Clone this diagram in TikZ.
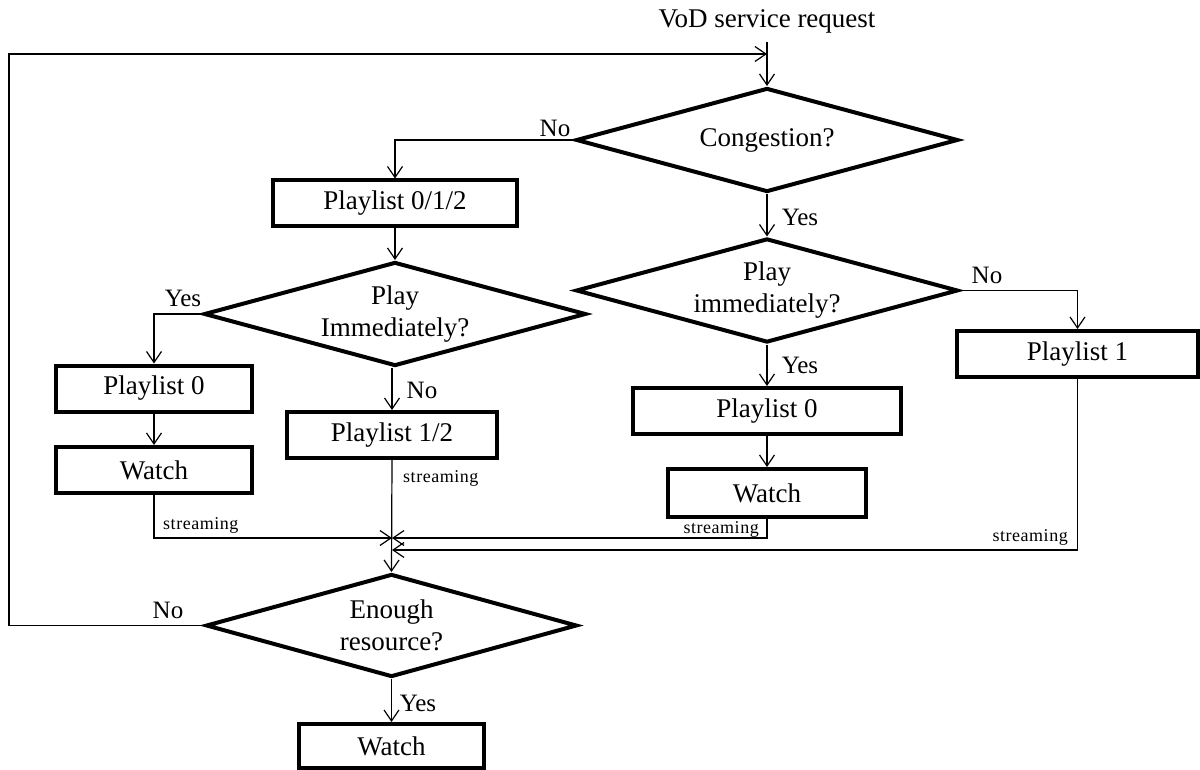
\documentclass[tikz,border=0pt]{standalone}
\usepackage{fontspec}
\setmainfont{Liberation Serif}
\newfontfamily\strfam[LetterSpace=3]{Liberation Serif}
\usetikzlibrary{shapes.geometric,arrows.meta}
\newcommand\mainf{\fontsize{27}{32}\selectfont}
\newcommand\lblf{\fontsize{25}{30}\selectfont}
\newcommand\strf{\strfam\fontsize{18}{21}\selectfont}
\begin{document}
\begin{tikzpicture}[x=1pt,y=-1pt,
  procbox/.style={draw, line width=4pt, minimum width=#1, minimum height=46pt, inner sep=0pt, font=\mainf},
  procbox/.default=200pt,
  dec/.style={diamond, draw, line width=4pt, aspect=3.67, minimum width=382pt, minimum height=104pt, inner sep=0pt, align=center, font=\mainf},
  lbl/.style={font=\lblf, inner sep=0pt},
  stream/.style={font=\strf, inner sep=0pt},
  conn/.style={line width=1.2pt},
  arr/.style={conn, -{Straight Barb[length=11pt,width=15pt]}}]
\useasboundingbox (0,0) rectangle (1200,770);

% nodes
\node[font=\mainf, anchor=base, inner sep=0pt] (req) at (767,28) {VoD service request};
\node[dec] (cong) at (767,140) {Congestion?};
\node[procbox=244pt] (p012) at (395,203.5) {Playlist 0/1/2};
\node[dec] (pl) at (395,314) {Play\\Immediately?};
\node[procbox=196pt] (p0l) at (154,388.5) {Playlist 0};
\node[procbox=196pt] (wl) at (154,470) {Watch};
\node[procbox=210pt] (p12) at (392,435) {Playlist 1/2};
\node[dec] (pr) at (767,290.5) {Play\\immediately?};
\node[procbox=268pt] (p0r) at (767,411) {Playlist 0};
\node[procbox=198pt, minimum height=48pt] (wr) at (767,493) {Watch};
\node[procbox=241pt] (p1) at (1077.5,354) {Playlist 1};
\node[dec, aspect=3.6, minimum width=371pt, minimum height=103pt] (enough) at (391.5,625.5) {Enough\\resource?};
\node[procbox=185pt, minimum height=44pt] (wb) at (391.5,746) {Watch};

% labels
\node[lbl] (lno1) at (555,128) {No};
\node[lbl] (lyes1) at (800,217) {Yes};
\node[lbl] (lyes2) at (183,298) {Yes};
\node[lbl] (lno2) at (422,390) {No};
\node[lbl] (lno3) at (987,275) {No};
\node[lbl] (lyes3) at (800,365) {Yes};
\node[lbl] (lno4) at (168,610) {No};
\node[lbl] (lyes4) at (418,703) {Yes};

\node[stream, anchor=west] (s1) at (163,525) {streaming};
\node[stream, anchor=west] (s2) at (403,478) {streaming};
\node[stream, anchor=east] (s3) at (759,529) {streaming};
\node[stream, anchor=east] (s4) at (1068,537) {streaming};

% coordinates
\coordinate (in) at (767,42);
\coordinate (join) at (767,54);
\coordinate (m1) at (392,538);
\coordinate (m2) at (392,550);
\coordinate (lb) at (9,625.5);
\coordinate (lt) at (9,54);

% connectors
\draw[arr] (in) -- (cong.north);
\draw[arr] (cong.west) -| (p012.north);
\draw[arr] (p012.south) -- (pl.north);
\draw[arr] (pl.west) -| (p0l.north);
\draw[arr] (p0l.south) -- (wl.north);
\draw[arr] (p12 |- pl.south) -- (p12.north);
\draw[arr] (p12.south) -- (enough.north);
\draw[arr] (wl.south) |- (m1);
\draw[arr] (cong.south) -- (pr.north);
\draw[arr] (pr.east) -| (p1.north);
\draw[arr] (pr.south) -- (p0r.north);
\draw[arr] (p0r.south) -- (wr.north);
\draw[arr] (wr.south) |- (m1);
\draw[arr] (p1.south) |- (m2);
\draw[arr] (enough.south) -- (wb.north);
\draw[arr] (enough.west) -- (lb) -- (lt) -- (join);
\end{tikzpicture}
\end{document}
